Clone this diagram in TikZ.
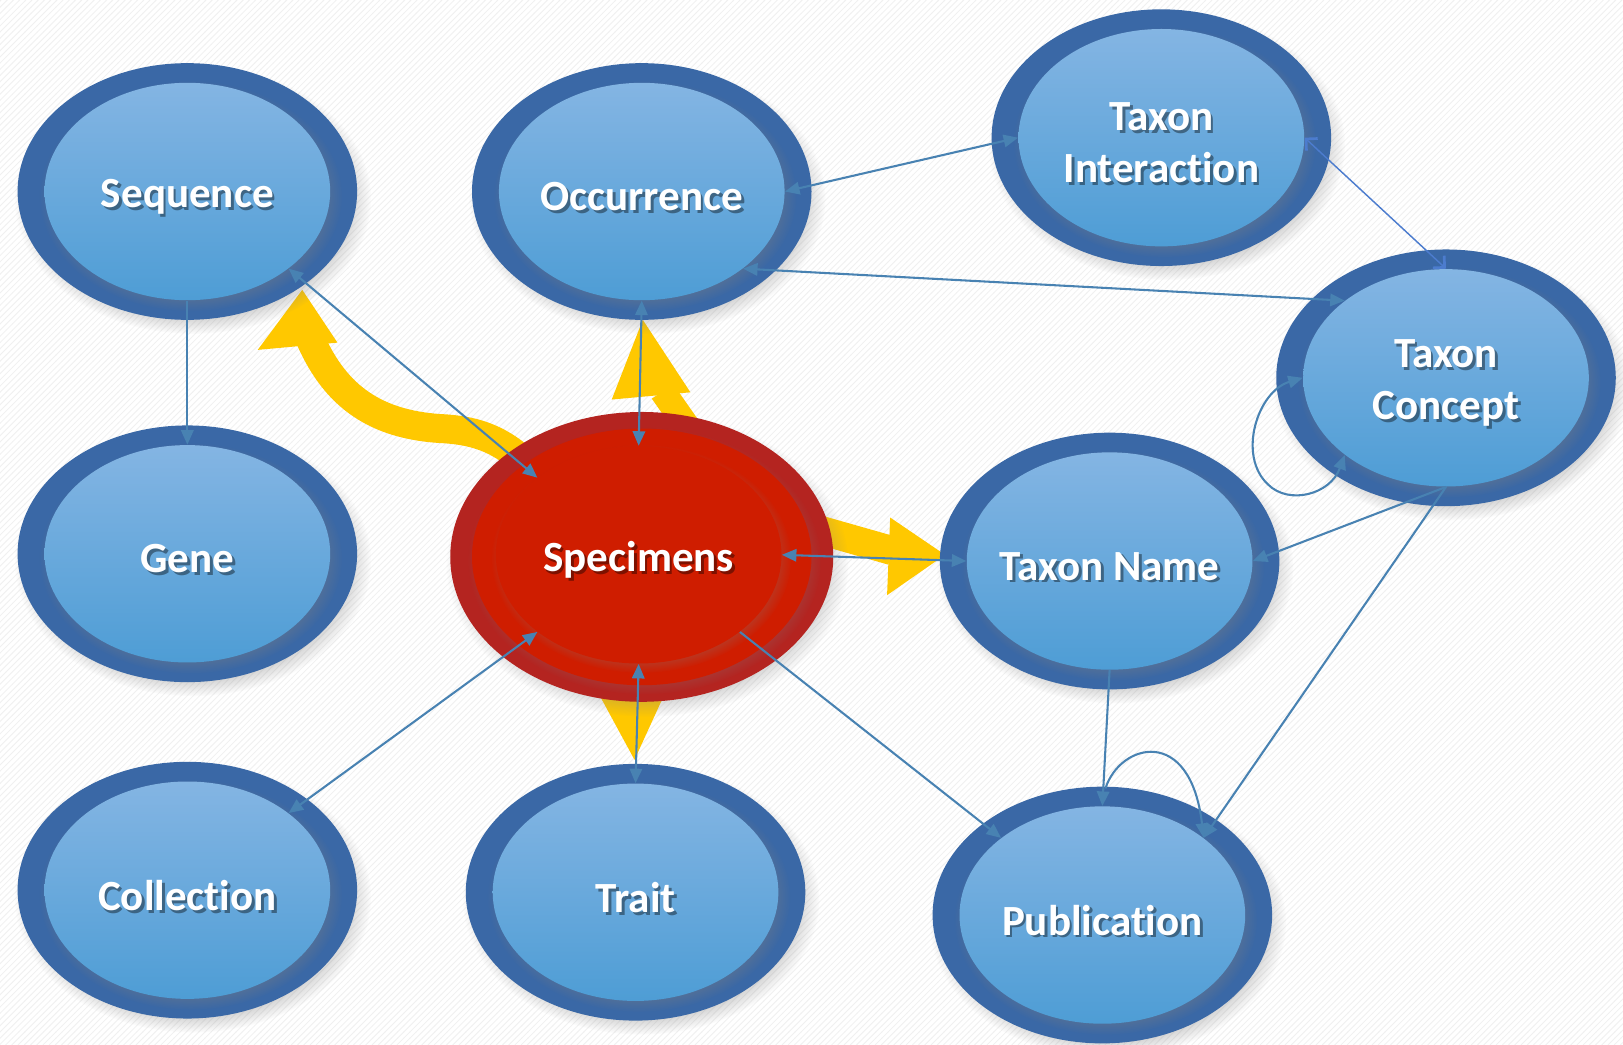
\documentclass[tikz,border=0pt]{standalone}
\usepackage{fontspec}
\setmainfont{Carlito}[Ligatures={NoCommon}]
\usetikzlibrary{arrows.meta,shapes.geometric,shadows,patterns,fadings,calc}
\definecolor{ring}{RGB}{58,104,166}
\definecolor{btop}{RGB}{132,181,227}
\definecolor{bbot}{RGB}{78,157,213}
\definecolor{rout}{RGB}{180,36,32}
\definecolor{rin}{RGB}{207,29,0}
\definecolor{cblue}{RGB}{72,130,178}
\definecolor{cbluetwo}{RGB}{76,124,206}
\definecolor{gold}{RGB}{255,200,0}
\tikzset{
  outerring/.style={ellipse, draw=none, fill=ring, minimum width=164pt, minimum height=124pt, inner sep=0pt,
    circular drop shadow={shadow xshift=2.5pt, shadow yshift=-3.5pt, shadow scale=1.05, opacity=0.4}},
  innerfill/.style={ellipse, draw=none, top color=btop, bottom color=bbot, minimum width=138pt, minimum height=105pt, inner sep=0pt,
    circular drop shadow={shadow xshift=1.5pt, shadow yshift=-2pt, shadow scale=1.06, opacity=0.45}},
  redout/.style={ellipse, draw=none, fill=rout, minimum width=185pt, minimum height=140pt, inner sep=0pt,
    circular drop shadow={shadow xshift=2.5pt, shadow yshift=-3.5pt, shadow scale=1.05, opacity=0.4}},
  redmid/.style={ellipse, draw=none, fill=rin, minimum width=164pt, minimum height=124pt, inner sep=0pt,
    circular drop shadow={shadow xshift=1.2pt, shadow yshift=-1.8pt, shadow scale=1.04, opacity=0.35}},
  redin/.style={ellipse, draw=none, fill=rin, minimum width=138pt, minimum height=105pt, inner sep=0pt,
    circular drop shadow={shadow xshift=1.2pt, shadow yshift=-1.8pt, shadow scale=1.05, opacity=0.4}},
  lbl/.style={text=white, font=\bfseries\fontsize{20.8}{25}\selectfont, align=center, inner sep=0pt},
  lblsh/.style={text=black, text opacity=0.4, font=\bfseries\fontsize{20.8}{25}\selectfont, align=center, inner sep=0pt},
  conn/.style={draw=cblue, line width=1pt},
  conntwo/.style={draw=cbluetwo, line width=0.7pt,
    {Straight Barb[length=4pt,width=8pt,line width=1.3pt]}-{Straight Barb[length=4pt,width=8pt,line width=1.3pt]}},
  yshaft/.style={draw=gold, line cap=butt},
  yhead/.style={fill=gold, draw=none},
}
\newcommand\bubble[3]{%
  \node[outerring] (#1-o) at (#2) {};
  \node[innerfill] (#1) at (#2) {};
  \node[lblsh] (#1-s) at ([shift={(1.3pt,-3.8pt)}]#1.center) {#3};
  \node[lbl] (#1-t) at ([yshift=-2.5pt]#1.center) {#3};
}
\begin{document}
\begin{tikzpicture}[x=0.5pt,y=-0.5pt,>={Triangle[length=7pt,width=6pt]}]
\useasboundingbox (0,0) rectangle (1568,1009);
\fill[white] (0,0) rectangle (1568,1009);
\fill[pattern=north east lines, pattern color=black!6] (0,0) rectangle (1568,1009);

% yellow arrows
\draw[yshaft, line width=14pt] (300,328) .. controls (325,385) and (365,410) .. (425,414) .. controls (470,416) and (495,430) .. (530,470);
\fill[yhead] (249,338) -- (292,280) -- (326,331) -- cycle;
\draw[yshaft, line width=12.5pt] (640,378) -- (675,428);
\fill[yhead] (591,386) -- (621,309) -- (667,379) -- cycle;
\draw[yshaft, line width=14pt] (760,503) -- (862,532);
\fill[yhead] (860,500) -- (913,536) -- (857,575) -- cycle;
\fill[yhead] (562,640) -- (656,640) -- (613,734) -- cycle;

% bubbles
\bubble{seq}{181,185}{Sequence}
\bubble{occ}{620,185}{Occurrence}
\bubble{tint}{1122,133}{Taxon\\Interaction}
\bubble{tcon}{1397,365}{Taxon\\Concept}
\bubble{gene}{181,535}{Gene}
\bubble{tname}{1072,542}{Taxon Name}
\bubble{coll}{181,860}{Collection}
\bubble{trait}{614,862}{Trait}
\bubble{pub}{1065,884}{Publication}

% specimens
\node[redout] (spec-o) at (620,538) {};
\node[redmid] (spec-m) at (620,538) {};
\node[redin] (spec) at (617,536) {};
\node[lblsh] (spec-s) at ([shift={(1.3pt,-3.8pt)}]spec.center) {Specimens};
\node[lbl] (spec-t) at ([yshift=-2.5pt]spec.center) {Specimens};

% connectors
\draw[conn,->] (seq.south) -- (gene.north);
\draw[conn,<->] (spec.north west) -- (seq.south east);
\draw[conn,<->] (spec.north) -- (occ.south);
\draw[conn,<->] (occ.east) -- (tint.west);
\draw[conn,<->] (occ.south east) -- (tcon.north west);
\draw[conntwo] (tint.east) -- (tcon.north);
\draw[conn,<->] (tcon.west) .. controls (1215,378) and (1195,440) .. (1225,468) .. controls (1245,488) and (1285,478) .. (tcon.south west);
\draw[conn,->] (tcon.south) -- (tname.east);
\draw[conn,->] (tcon.south) -- (pub.north east);
\draw[conn,->] (tname.south) -- (pub.north);
\coordinate (publoop) at ($(pub.north)+(3,-17)$);
\draw[conn,->] (publoop) .. controls (1082,718) and (1150,700) .. (pub.north east);
\draw[conn,<->] (spec.east) -- (tname.west);
\draw[conn,<->] (spec.south) -- (trait.north);
\draw[conn,<->] (spec.south west) -- (coll.north east);
\draw[conn,->] (spec.south east) -- (pub.north west);
\end{tikzpicture}
\end{document}
